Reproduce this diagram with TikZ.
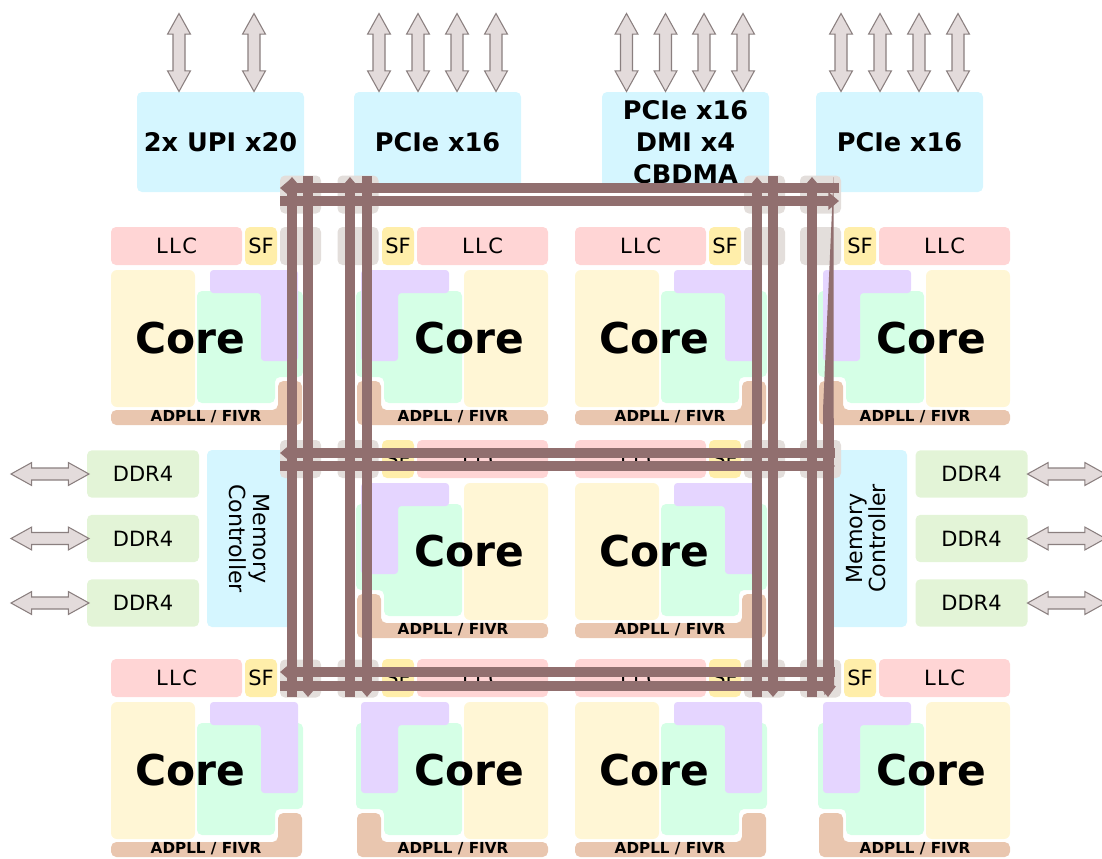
\documentclass[tikz,border=0pt]{standalone}
\usepackage{fontspec}
\setmainfont{DejaVu Sans}
\newfontfamily\llcfont[LetterSpace=7]{DejaVu Sans}
\usetikzlibrary{arrows.meta,shapes.arrows}

\definecolor{iofill}{HTML}{D5F6FF}
\definecolor{llcfill}{HTML}{FFD5D5}
\definecolor{sffill}{HTML}{FFEEAA}
\definecolor{chafill}{HTML}{E3DEDB}
\definecolor{corefill}{HTML}{FFF6D5}
\definecolor{greenfill}{HTML}{D5FFE6}
\definecolor{purplefill}{HTML}{E5D5FF}
\definecolor{pllfill}{HTML}{E9C6AF}
\definecolor{ddrfill}{HTML}{E3F4D7}
\definecolor{meshcolor}{HTML}{916F6F}
\definecolor{portfill}{HTML}{E3DBDB}
\definecolor{portline}{HTML}{8A7F7F}

\tikzset{
    block/.style={inner sep=0pt, outer sep=0pt, rounded corners=3.75pt},
    iobox/.style={block, fill=iofill, minimum width=125.25pt, minimum height=75pt,
        align=center, font=\fontsize{19.2}{24}\selectfont\bfseries},
    llcbox/.style={block, fill=llcfill, minimum width=98.25pt, minimum height=28.5pt,
        font=\fontsize{15.75}{18}\selectfont\llcfont},
    sfbox/.style={block, fill=sffill, minimum width=24pt, minimum height=28.5pt,
        font=\fontsize{15.75}{18}\selectfont},
    chabox/.style={block, fill=chafill, minimum width=30.75pt, minimum height=28.5pt},
    ddrbox/.style={block, fill=ddrfill, minimum width=84pt, minimum height=35.6pt,
        font=\fontsize{15.75}{18}\selectfont},
    mcbox/.style={block, fill=iofill, minimum width=132.75pt, align=center,
        font=\fontsize{16.6}{17.5}\selectfont},
    corelabel/.style={anchor=base, inner sep=0pt, font=\fontsize{31.8}{36}\selectfont\bfseries},
    plllabel/.style={anchor=base, inner sep=0pt, font=\fontsize{11.4}{13}\selectfont\bfseries},
    port/.style={double arrow, draw=portline, fill=portfill, line width=0.8pt,
        inner xsep=0pt, inner ysep=4.1pt, minimum height=58.5pt,
        double arrow head extend=4.1pt, double arrow tip angle=58},
    mesh/.style={draw=meshcolor, line width=8pt},
    meshtip/.style={mesh, arrows={#1}},
    tip/.tip={Triangle[length=8pt,width=13pt]},
}

\begin{document}
\begin{tikzpicture}[x=0.75pt,y=-0.75pt]
    \useasboundingbox (0,0) rectangle (1102,858);

    % IO blocks on top
    \node[iobox] (upi) at (220.5,142) {2x UPI x20};
    \node[iobox] (pcieA) at (437.5,142) {PCIe x16};
    \node[iobox] (pcieB) at (685.5,142) {PCIe x16\\DMI x4\\CBDMA};
    \node[iobox] (pcieC) at (899.5,142) {PCIe x16};

    \foreach \i/\x in {1/179,2/254,3/379,4/418,5/457,6/496,7/626.5,8/665.5,9/704,10/743,11/841,12/880,13/919,14/958}
        \node[port,rotate=90] (top\i) at (\x,52.5) {};

    % memory
    \node[mcbox,minimum height=63.75pt,rotate=-90] (mcwest) at (249.5,538.5) {Memory\\Controller};
    \node[mcbox,minimum height=61.5pt,rotate=90] (mceast) at (866,538.5) {Memory\\Controller};

    \foreach \i/\y in {1/474,2/538.5,3/603} {
        \node[ddrbox] (ddrwest\i) at (143,\y) {DDR4};
        \node[ddrbox] (ddreast\i) at (971.5,\y) {DDR4};
        \node[port] (portwest\i) at (50,\y) {};
        \node[port] (porteast\i) at (1066.5,\y) {};
    }

    % core tiles, mirrored where the scale is -1
    \foreach \t/\dx/\sx/\dy in {a/0/1/0,b/659/-1/0,c/464/1/0,d/1121/-1/0,e/659/-1/213,f/464/1/213,g/0/1/432,h/659/-1/432,k/464/1/432,m/1121/-1/432} {
        \begin{scope}[shift={(\dx,\dy)},xscale=\sx]
            \node[llcbox] (llc\t) at (176.5,246) {LLC};
            \node[sfbox] (sf\t) at (261,246) {SF};
            \fill[corefill,rounded corners=4.5pt] (111,270) rectangle (195,407);
            \fill[greenfill,rounded corners=3.75pt] (197,291) -- (303,291) -- (303,377) -- (275,377) -- (275,403) -- (197,403) -- cycle;
            \fill[purplefill,rounded corners=2.5pt] (210,270) -- (298,270) -- (298,361) -- (261,361) -- (261,293) -- (210,293) -- cycle;
            \fill[pllfill,rounded corners=4pt] (111,410) -- (278,410) -- (278,381) -- (302,381) -- (302,425) -- (111,425) -- cycle;
            \node[corelabel] (core\t) at (190,353) {Core};
            \node[plllabel] (pll\t) at (206,421.5) {ADPLL / FIVR};
        \end{scope}
    }

    % mesh stops
    \foreach \y [count=\r] in {194.5,246,459,678.5}
        \foreach \x [count=\c] in {300.5,358,764.5,820.5}
            \node[chabox] (cha\r\c) at (\x,\y) {};

    % mesh rings
    \foreach \r/\ya/\yb/\xe in {1/188/201/839,2/453/466/835,3/672/686/835} {
        \coordinate (ringA\r w) at (280,\ya);
        \coordinate (ringA\r e) at (\xe,\ya);
        \coordinate (ringB\r w) at (280,\yb);
        \coordinate (ringB\r e) at (\xe,\yb);
        \draw[meshtip={tip-}] (ringA\r w) -- (ringA\r e);
        \draw[meshtip={-tip}] (ringB\r w) -- (ringB\r e);
    }
    \foreach \c/\x in {1/292,2/350,3/757,4/812} {
        \coordinate (upS\c) at (\x,697);
        \coordinate (upN\c) at (\x,177);
        \draw[meshtip={-tip}] (upS\c) -- (upN\c);
    }
    \foreach \c/\x in {1/308,2/367,3/773} {
        \coordinate (downN\c) at (\x,176);
        \coordinate (downS\c) at (\x,697);
        \draw[meshtip={-tip}] (downN\c) -- (downS\c);
    }
    % last one narrows to a point at the top
    \coordinate (downN4) at (833.5,177);
    \coordinate (downS4) at (828,697);
    \fill[meshcolor] (downN4) -- (823,410) -- (823,686) -- (819,686) -- (downS4) -- (836,686) -- (834,686) -- cycle;
\end{tikzpicture}
\end{document}
